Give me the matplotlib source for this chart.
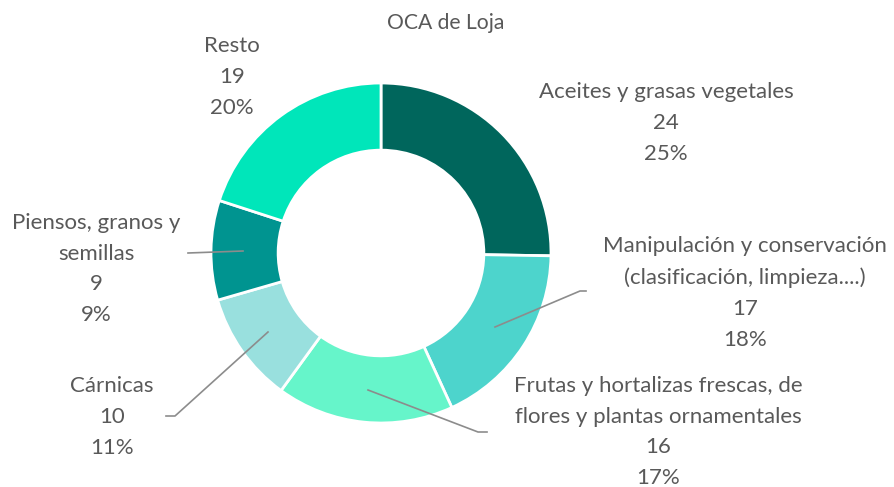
import matplotlib
matplotlib.use("Agg")
import matplotlib.pyplot as plt

categories = ["Aceites y grasas vegetales",
              "Manipulación y conservación\n(clasificación, limpieza....)",
              "Frutas y hortalizas frescas, de\nflores y plantas ornamentales",
              "Cárnicas",
              "Piensos, granos y\nsemillas",
              "Resto"]
values = [24, 17, 16, 10, 9, 19]
percent_labels = ["25%", "18%", "17%", "11%", "9%", "20%"]
colors = ["#00665C", "#4DD4CC", "#66F5CA", "#99E0DE", "#009490", "#00E6BA"]

W, H = 894, 487
fig = plt.figure(figsize=(W / 100, H / 100), dpi=100)

cx, cy, R = 381, 253, 170
pax = fig.add_axes([(cx - R) / W, (H - cy - R) / H, 2 * R / W, 2 * R / H])
wedges, _ = pax.pie(values, colors=colors, startangle=90, counterclock=False,
                    radius=1.0, wedgeprops=dict(width=0.395, edgecolor="white", linewidth=2))
pax.set_xlim(-1, 1)
pax.set_ylim(-1, 1)
pax.set_aspect("equal")
pax.axis("off")

ax = fig.add_axes([0, 0, 1, 1])
ax.patch.set_alpha(0)
ax.set_xlim(0, W)
ax.set_ylim(H, 0)
ax.axis("off")

txt = "#595959"
font = "Lato"
fs = 16

ax.text(446, 23, "OCA de Loja", ha="center", va="center", fontsize=15.2, color=txt, family=font)

label_pos = [(666, 123), (745, 293), (658, 432), (112, 417), (96, 269), (232, 77)]
for cat, v, p, (x, y) in zip(categories, values, percent_labels, label_pos):
    ax.text(x, y, f"{cat}\n{v}\n{p}", ha="center", va="center", multialignment="center",
            fontsize=fs, color=txt, family=font, linespacing=1.68)

line_c = "#8C8C8C"
leaders = [
    [(495, 327), (580, 291), (586, 291)],
    [(368, 390), (478, 432), (487, 432)],
    [(268, 332), (175, 416), (166, 416)],
    [(243, 251), (188, 253)],
]
for pts in leaders:
    xs, ys = zip(*pts)
    ax.plot(xs, ys, color=line_c, lw=1.2)

fig.savefig("out.png", dpi=100)
